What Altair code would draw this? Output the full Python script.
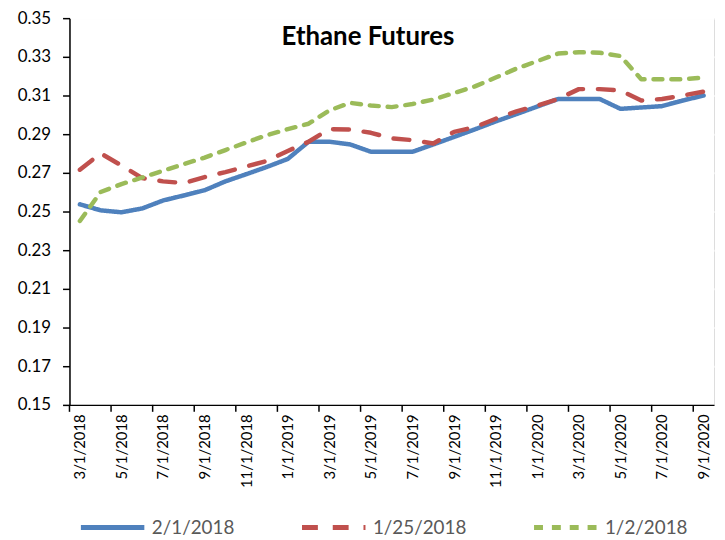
import altair as alt
import pandas as pd

months = ["3/1/2018","4/1/2018","5/1/2018","6/1/2018","7/1/2018","8/1/2018","9/1/2018","10/1/2018",
          "11/1/2018","12/1/2018","1/1/2019","2/1/2019","3/1/2019","4/1/2019","5/1/2019","6/1/2019",
          "7/1/2019","8/1/2019","9/1/2019","10/1/2019","11/1/2019","12/1/2019","1/1/2020","2/1/2020",
          "3/1/2020","4/1/2020","5/1/2020","6/1/2020","7/1/2020","8/1/2020","9/1/2020"]

s_feb1 = [0.2537,0.2506,0.2496,0.2516,0.2557,0.2583,0.2610,0.2656,0.2693,0.2731,0.2772,0.2861,0.2861,
          0.2847,0.2809,0.2809,0.2809,0.2847,0.2886,0.2925,0.2966,0.3004,0.3043,0.3082,0.3082,0.3082,
          0.3031,0.3038,0.3045,0.3074,0.3100]
s_jan25 = [0.2716,0.2801,0.2738,0.2673,0.2656,0.2647,0.2678,0.2704,0.2733,0.2762,0.2813,0.2861,0.2926,
           0.2924,0.2907,0.2878,0.2869,0.2852,0.2912,0.2937,0.2980,0.3018,0.3048,0.3082,0.3133,0.3133,
           0.3126,0.3074,0.3082,0.3100,0.3120]
s_jan2 = [0.2451,0.2601,0.2642,0.2676,0.2711,0.2745,0.2779,0.2818,0.2857,0.2895,0.2926,0.2954,0.3023,
          0.3062,0.3048,0.3040,0.3056,0.3079,0.3113,0.3147,0.3193,0.3239,0.3278,0.3317,0.3324,0.3321,
          0.3304,0.3184,0.3184,0.3184,0.3193]

series_names = ["2/1/2018", "1/25/2018", "1/2/2018"]
series_vals = [s_feb1, s_jan25, s_jan2]
colors = ["#4F81BD", "#C0504D", "#9BBB59"]
dashes = [[1, 0], [16, 15], [9, 9]]
y_ticks = [0.15, 0.17, 0.19, 0.21, 0.23, 0.25, 0.27, 0.29, 0.31, 0.33, 0.35]
label_idx = list(range(0, 31, 2))
tick_bounds = [i - 0.5 for i in range(0, 32, 2)]
title_text = "Ethane Futures"

rows = []
for name, vals in zip(series_names, series_vals):
    for i, v in enumerate(vals):
        rows.append({"idx": i, "month": months[i], "value": v, "series": name})
df = pd.DataFrame(rows)

FONT = "Lato"
label_arr = "[" + ",".join("'" + m + "'" for m in months) + "]"

xscale = alt.Scale(domain=[-0.5, 30.5], nice=False, zero=False)
yscale = alt.Scale(domain=[0.15, 0.35], nice=False, zero=False)

lines = alt.Chart(df).mark_line(strokeWidth=4.5, strokeCap="round", strokeJoin="round").encode(
    x=alt.X("idx:Q", scale=xscale,
            axis=alt.Axis(values=label_idx, labelExpr=label_arr + "[datum.value]", labelAngle=-90,
                          ticks=False, grid=False, title=None, labelFontSize=15, labelColor="#000000",
                          labelFont=FONT, labelPadding=9, domainColor="#000000", domainWidth=1.5,
                          labelOverlap=False)),
    y=alt.Y("value:Q", scale=yscale,
            axis=alt.Axis(values=y_ticks, format=".2f", title=None, labelFontSize=17, labelFont=FONT,
                          labelColor="#000000", tickColor="#000000", tickSize=7, tickWidth=1.5,
                          domainColor="#000000", domainWidth=1.5, gridColor="#FFFFFF", gridWidth=2,
                          labelPadding=12)),
    color=alt.Color("series:N", scale=alt.Scale(domain=series_names, range=colors),
                    legend=alt.Legend(title=None, orient="none", legendX=9, legendY=479,
                                      direction="horizontal", symbolType="stroke",
                                      symbolSize=4096, symbolStrokeWidth=5,
                                      labelFontSize=19, labelFont=FONT, labelColor="#595959",
                                      columnPadding=57, labelOffset=5)),
    strokeDash=alt.StrokeDash("series:N", scale=alt.Scale(domain=series_names, range=dashes),
                              legend=None),
    order=alt.Order("idx:Q"),
)

ticks_df = pd.DataFrame({"b": tick_bounds})
xticks = alt.Chart(ticks_df).mark_rule(color="#000000", strokeWidth=1.5).encode(
    x=alt.X("b:Q", scale=xscale),
    y=alt.value(390),
    y2=alt.value(397),
)

title_df = pd.DataFrame({"t": [title_text]})
title = alt.Chart(title_df).mark_text(font=FONT, fontSize=26, fontWeight="bold", color="#000000",
                                      align="center", baseline="middle").encode(
    text="t:N", x=alt.value(301), y=alt.value(19))

chart = alt.layer(lines, xticks, title).properties(
    width=650, height=390,
    autosize=alt.AutoSizeParams(type="none"),
    padding={"left": 62, "top": 8, "right": 3, "bottom": 132},
).configure_view(fill="#E3EFE1", stroke=None).configure(background="#FFFFFF")

chart.save("out.html", embed_options={"renderer": "svg", "actions": False})
